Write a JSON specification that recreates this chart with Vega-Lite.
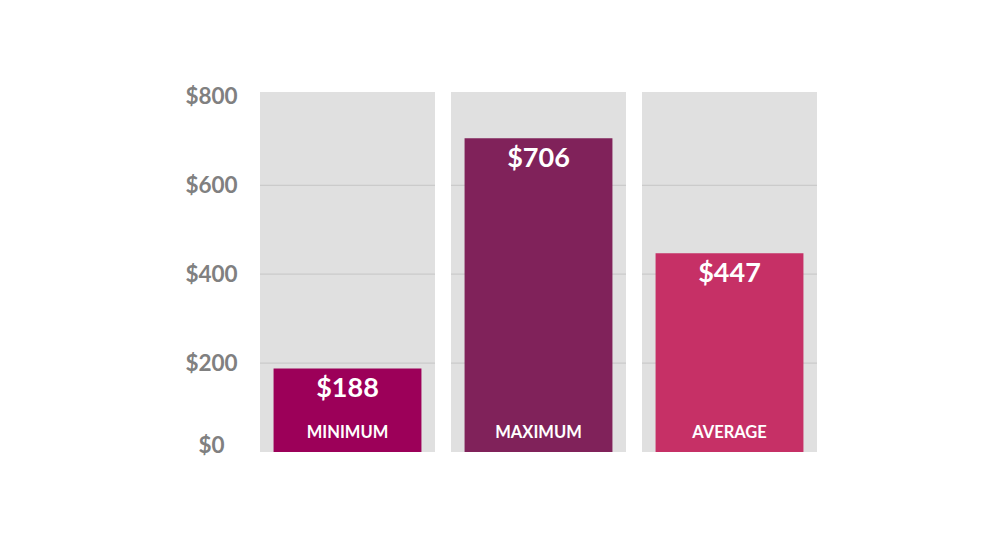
{
  "$schema": "https://vega.github.io/schema/vega-lite/v6.json",
  "width": 557,
  "height": 360,
  "autosize": {"type": "none"},
  "padding": {"left": 260, "top": 92, "right": 184, "bottom": 89},
  "background": "white",
  "datasets": {
    "bars": [
      {"category": "MINIMUM", "value": 188},
      {"category": "MAXIMUM", "value": 706},
      {"category": "AVERAGE", "value": 447}
    ],
    "grid": [
      {"category": "MINIMUM", "level": 200},
      {"category": "MINIMUM", "level": 400},
      {"category": "MINIMUM", "level": 600},
      {"category": "MAXIMUM", "level": 200},
      {"category": "MAXIMUM", "level": 400},
      {"category": "MAXIMUM", "level": 600},
      {"category": "AVERAGE", "level": 200},
      {"category": "AVERAGE", "level": 400},
      {"category": "AVERAGE", "level": 600}
    ]
  },
  "data": {"name": "bars"},
  "layer": [
    {
      "mark": {"type": "bar", "color": "#e0e0e0"},
      "encoding": {
        "x": {"field": "category", "type": "nominal", "sort": ["MINIMUM", "MAXIMUM", "AVERAGE"], "axis": null,
              "scale": {"paddingInner": 0.0838, "paddingOuter": 0}},
        "y": {"datum": 810, "type": "quantitative", "scale": {"domain": [0, 810], "nice": false},
              "axis": {
                "title": null, "domain": false, "ticks": false, "grid": false,
                "values": [0, 200, 400, 600, 800],
                "format": "$,.0f",
                "labelAlign": "center",
                "labelPadding": 49,
                "labelFont": "Lato", "labelFontSize": 22.5, "labelFontWeight": "bold",
                "labelColor": "#808080",
                "labelBaseline": {"condition": {"test": "datum.value == 0", "value": "alphabetic"}, "value": "middle"}
              }}
      }
    },
    {
      "data": {"name": "grid"},
      "mark": {"type": "tick", "color": "#c2c2c2", "size": 175, "thickness": 1.2, "orient": "horizontal"},
      "encoding": {
        "x": {"field": "category", "type": "nominal", "sort": ["MINIMUM", "MAXIMUM", "AVERAGE"], "axis": null},
        "y": {"field": "level", "type": "quantitative", "scale": {"domain": [0, 810], "nice": false}, "title": null}
      }
    },
    {
      "mark": {"type": "bar", "width": {"band": 0.845}},
      "encoding": {
        "x": {"field": "category", "type": "nominal", "sort": ["MINIMUM", "MAXIMUM", "AVERAGE"], "axis": null},
        "y": {"field": "value", "type": "quantitative", "scale": {"domain": [0, 810], "nice": false}, "title": null},
        "color": {"field": "category", "type": "nominal", "legend": null,
                  "scale": {"domain": ["MINIMUM", "MAXIMUM", "AVERAGE"], "range": ["#9c0059", "#80225a", "#c63066"]}}
      }
    },
    {
      "mark": {"type": "text", "color": "white", "font": "Lato", "fontSize": 27, "fontWeight": "bold", "baseline": "middle", "dy": 21},
      "encoding": {
        "x": {"field": "category", "type": "nominal", "sort": ["MINIMUM", "MAXIMUM", "AVERAGE"], "axis": null},
        "y": {"field": "value", "type": "quantitative", "scale": {"domain": [0, 810], "nice": false}, "title": null},
        "text": {"field": "value", "type": "quantitative", "format": "$,.0f"}
      }
    },
    {
      "mark": {"type": "text", "color": "white", "font": "Lato", "fontSize": 16.5, "fontWeight": "bold", "baseline": "middle", "dy": -19},
      "encoding": {
        "x": {"field": "category", "type": "nominal", "sort": ["MINIMUM", "MAXIMUM", "AVERAGE"], "axis": null},
        "y": {"datum": 0, "type": "quantitative", "scale": {"domain": [0, 810], "nice": false}, "title": null},
        "text": {"field": "category", "type": "nominal"}
      }
    }
  ],
  "config": {"view": {"stroke": null}}
}
